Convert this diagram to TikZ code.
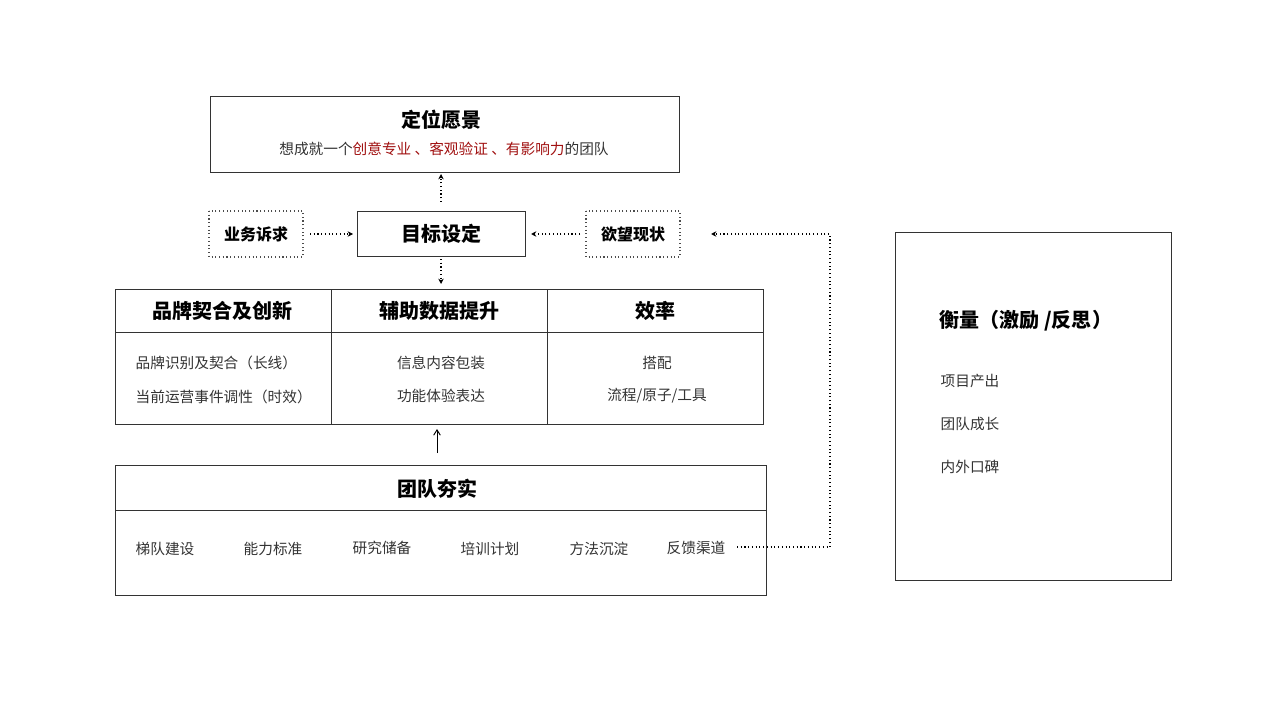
\documentclass[tikz,border=0pt]{standalone}
\usepackage{fontspec}
\setmainfont{Noto Sans CJK SC}
\newfontfamily\cjkb{Noto Sans CJK SC}[BoldFont={Noto Sans CJK SC Bold}]
\usetikzlibrary{arrows.meta}
\definecolor{dred}{HTML}{A01010}
\definecolor{tx}{HTML}{333333}
\begin{document}
\begin{tikzpicture}[x=0.75pt,y=-0.75pt,
  box/.style={draw=black!80,line width=0.7pt},
  dbox/.style={draw=black!70,dotted,line width=0.8pt},
  ttl/.style={font=\fontsize{15}{18}\selectfont\bfseries,text=black},
  sm/.style={font=\fontsize{11}{13}\selectfont,text=tx},
  ht/.style={font=\fontsize{12}{14}\selectfont\bfseries,text=black},
  darr/.style={dotted,line width=0.8pt,-{Stealth[length=4pt,width=4pt]}}]
\useasboundingbox (0,0) rectangle (1280,720);
% vision
\draw[box] (210,96) rectangle (679,172);
\node[ttl] (vis) at (441,120) {定位愿景};
\node[sm] (vsub) at (444,149) {想成就一个\textcolor{dred}{创意专业 、客观验证 、有影响力}的团队};
\coordinate (visb) at (441,174);
% goal row
\draw[dbox] (209,211) rectangle (303,257);
\node[ht] (biz) at (256,234) {业务诉求};
\draw[box] (357,211) rectangle (525,256);
\node[ttl] (goal) at (441,234) {目标设定};
\draw[dbox] (586,211) rectangle (680,257);
\node[ht] (wish) at (633,234) {欲望现状};
\coordinate (goalt) at (441,202);
\draw[darr] (goalt) -- (visb);
\coordinate (bizr) at (310,234); \coordinate (goall) at (353,234);
\draw[darr] (bizr) -- (goall);
\coordinate (wishl) at (580,234); \coordinate (goalr) at (531,234);
\draw[darr] (wishl) -- (goalr);
\coordinate (goalb) at (441,259); \coordinate (tabt) at (441,284);
\draw[darr] (goalb) -- (tabt);
% table
\draw[box] (115,289) rectangle (763,424);
\draw[box] (115,332) -- (763,332);
\draw[box] (331,289) -- (331,424);
\draw[box] (547,289) -- (547,424);
\node[ht,font=\fontsize{15}{18}\selectfont\bfseries] (h1) at (222,311) {品牌契合及创新};
\node[ht,font=\fontsize{15}{18}\selectfont\bfseries] (h2) at (439,311) {辅助数据提升};
\node[ht,font=\fontsize{15}{18}\selectfont\bfseries] (h3) at (655,311) {效率};
\node[sm,anchor=west] (a1) at (131,363) {品牌识别及契合（长线）};
\node[sm,anchor=west] (a2) at (131,397) {当前运营事件调性（时效）};
\node[sm] (b1) at (441,363) {信息内容包装};
\node[sm] (b2) at (441,396) {功能体验表达};
\node[sm] (c1) at (657,363) {搭配};
\node[sm] (c2) at (657,396) {流程/原子/工具};
\coordinate (tabb) at (437,429); \coordinate (teamt) at (437,453);
\draw[line width=0.7pt,-{Straight Barb[length=4pt,width=5pt]}] (teamt) -- (tabb);
% team
\draw[box] (115,465) rectangle (766,595);
\draw[box] (115,510) -- (766,510);
\node[ttl] (team) at (437,489) {团队夯实};
\node[sm] (t1) at (165,549) {梯队建设};
\node[sm] (t2) at (273,549) {能力标准};
\node[sm] (t3) at (382,548) {研究储备};
\node[sm] (t4) at (490,549) {培训计划};
\node[sm] (t5) at (599,549) {方法沉淀};
\node[sm] (t6) at (696,548) {反馈渠道};
\coordinate (fb1) at (737,547); \coordinate (fb2) at (830,547);
\coordinate (fb3) at (830,234); \coordinate (fb4) at (711,234);
\draw[darr] (fb1) -- (fb2) -- (fb3) -- (fb4);
% measure
\draw[box] (895,232) rectangle (1171,580);
\node[ttl,anchor=west] (m) at (935,321) {衡量（激励 /反思）};
\node[sm,anchor=west] (m1) at (936,381) {项目产出};
\node[sm,anchor=west] (m2) at (936,424) {团队成长};
\node[sm,anchor=west] (m3) at (936,467) {内外口碑};
\end{tikzpicture}
\end{document}
